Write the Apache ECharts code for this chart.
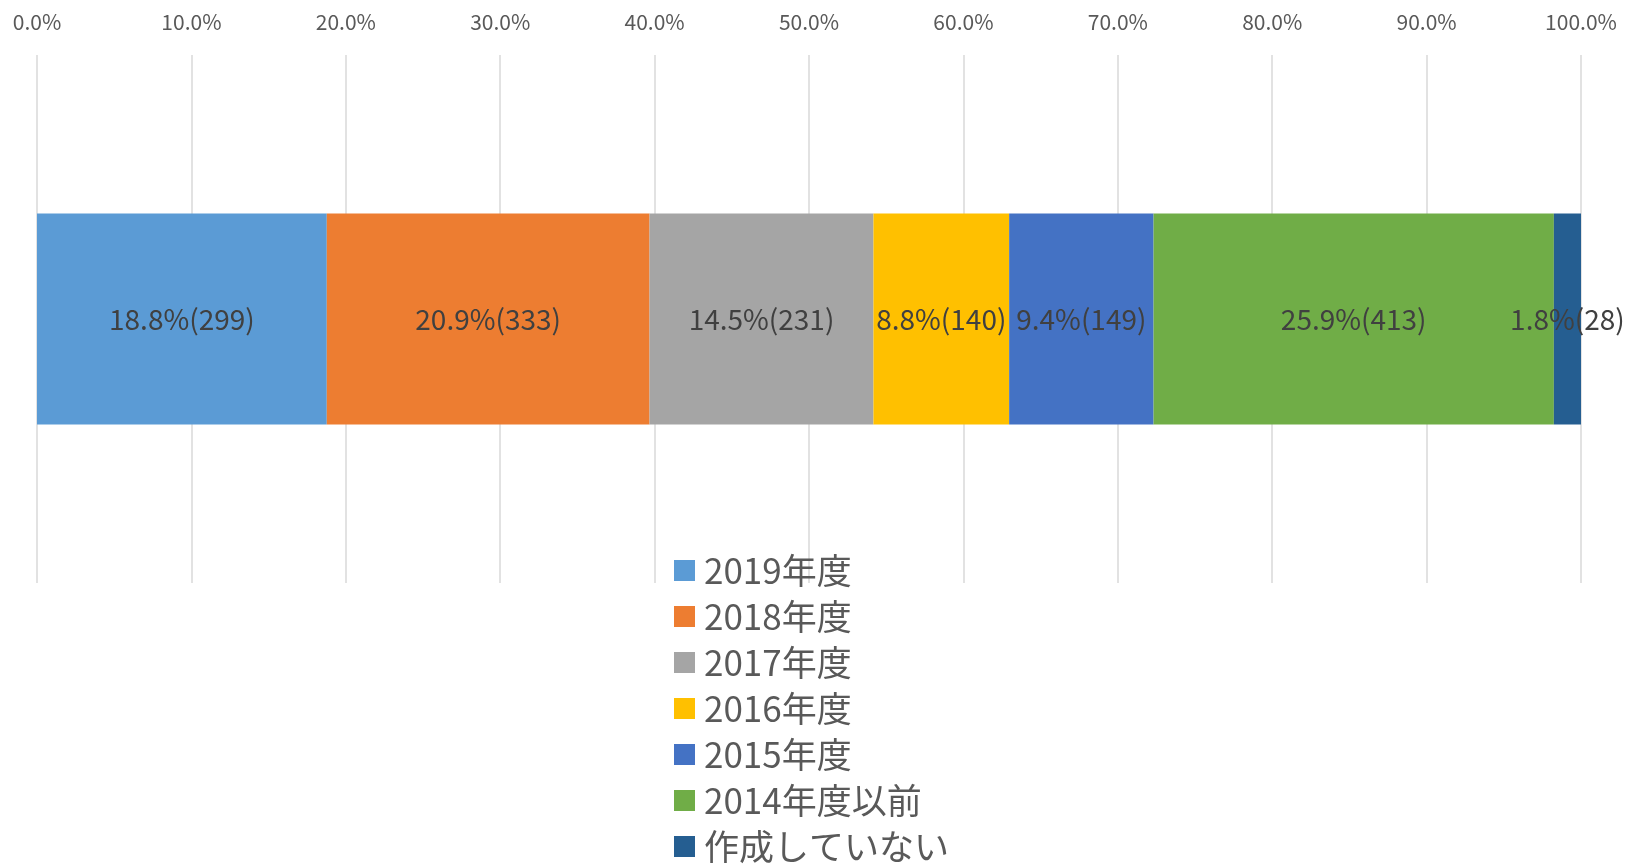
<!DOCTYPE html>
<html>
<head>
<meta charset="utf-8">
<script src="https://cdn.jsdelivr.net/npm/echarts@6/dist/echarts.min.js"></script>
<style>
  html, body { margin: 0; padding: 0; background: #fff; }
  #chart { width: 1628px; height: 867px; }
</style>
</head>
<body>
<div id="chart"></div>
<script>
// 凡例（系列名）
const seriesNames = ['2019年度', '2018年度', '2017年度', '2016年度', '2015年度', '2014年度以前', '作成していない']
// 件数
const counts = [299, 333, 231, 140, 149, 413, 28]
const colors = ['#5b9bd5', '#ed7d31', '#a5a5a5', '#ffc000', '#4472c4', '#70ad47', '#255e91']
const categories = ['']

const total = counts.reduce(function (a, b) { return a + b }, 0)
const font = "'Noto Sans CJK JP', 'Noto Sans', sans-serif"

function initChart() {
  let chart = echarts.init(document.getElementById('chart'))

  let series = seriesNames.map(function (name, i) {
    let pct = counts[i] / total * 100
    return {
      name: name,
      type: 'bar',
      stack: 'total',
      barWidth: 211,
      data: [pct],
      itemStyle: { color: colors[i] },
      label: {
        show: true,
        position: 'inside',
        color: '#404040',
        fontSize: 28,
        fontFamily: font,
        formatter: function () {
          return pct.toFixed(1) + '%(' + counts[i] + ')'
        },
      },
    }
  })

  var option = {
    animation: false,
    grid: {
      left: 37,
      right: 47,
      top: 55,
      bottom: 284,
    },
    xAxis: {
      type: 'value',
      position: 'top',
      min: 0,
      max: 100,
      interval: 10,
      axisLine: { show: false },
      axisTick: { show: false },
      axisLabel: {
        color: '#595959',
        fontSize: 21,
        fontFamily: font,
        margin: 22,
        formatter: function (v) {
          return v.toFixed(1) + '%'
        },
      },
      splitLine: {
        lineStyle: { color: '#d9d9d9', width: 1.5 },
      },
    },
    yAxis: {
      type: 'category',
      data: categories,
      show: false,
    },
    legend: {
      orient: 'vertical',
      left: 669,
      top: 548,
      height: 330,
      itemWidth: 21,
      itemHeight: 21,
      itemGap: 11,
      icon: 'rect',
      data: seriesNames,
      textStyle: {
        color: '#595959',
        fontSize: 35,
        lineHeight: 34,
        fontFamily: font,
        padding: [0, 0, 0, 4],
      },
    },
    series: series,
  }
  chart.setOption(option)

  window.addEventListener('resize', function () {
    chart.resize()
  })
}

initChart()
</script>
</body>
</html>
